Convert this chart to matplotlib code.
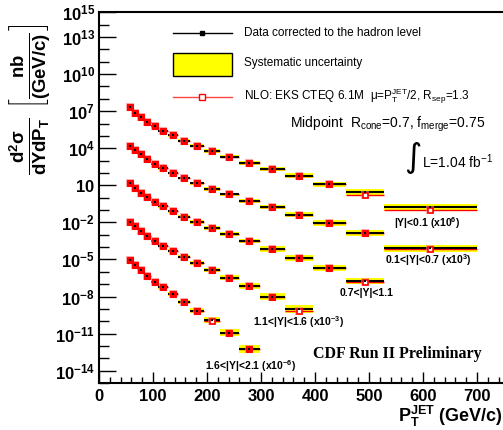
import numpy as np
import matplotlib
matplotlib.use("Agg")
import matplotlib.pyplot as plt
from matplotlib.ticker import NullFormatter, MultipleLocator
from matplotlib.lines import Line2D
from matplotlib.patches import Rectangle

plt.rcParams['font.family'] = ['Liberation Sans', 'DejaVu Sans']
plt.rcParams['mathtext.fontset'] = 'custom'
plt.rcParams['mathtext.rm'] = 'Liberation Sans'
plt.rcParams['mathtext.it'] = 'Liberation Sans:italic'
plt.rcParams['mathtext.bf'] = 'Liberation Sans:bold'

# jet pT bin edges (GeV/c)
pt_edges = [54, 62, 72, 83, 96, 110, 127, 146, 169, 195, 224, 259, 298, 344, 396, 457, 527, 700]

# plotted cross sections (already multiplied by the factor in each label), nb/(GeV/c)
xsec_y01 = [2.05e7, 7.5e6, 3.2e6, 1.25e6, 5.9e5, 2.5e5, 1.1e5, 4.1e4, 1.6e4, 6.0e3,
            2.06e3, 6.7e2, 2.0e2, 60, 12, 2.7, 0.166]
xsec_y07 = [1.6e4, 7.2e3, 3.2e3, 1.27e3, 560, 237, 99, 39, 14.5, 5.0,
            1.8, 0.54, 0.166, 0.040, 8.4e-3, 1.3e-3, 8.0e-5]
xsec_y11 = [14.5, 6.05, 2.5, 1.07, 0.47, 0.20, 0.079, 0.029, 0.0107, 3.5e-3,
            1.1e-3, 3.1e-4, 7.0e-5, 1.24e-5, 1.9e-6, 1.8e-7]
xsec_y16 = [0.0113, 5.1e-3, 2.1e-3, 8.4e-4, 3.3e-4, 1.3e-4, 5.1e-5, 1.7e-5, 4.9e-6, 1.4e-6,
            3.3e-7, 6.5e-8, 9.7e-9, 1.04e-9]
xsec_y21 = [9.0e-6, 3.6e-6, 1.4e-6, 4.6e-7, 1.6e-7, 5.6e-8, 1.5e-8, 3.8e-9, 7.1e-10, 1.2e-10,
            1.2e-11, 5.7e-13]

# relative systematic uncertainty
sys_y01 = [0.25, 0.25, 0.25, 0.25, 0.25, 0.25, 0.28, 0.3, 0.32, 0.35, 0.38, 0.42, 0.45, 0.55, 0.65, 0.75, 0.95]
sys_y07 = [0.25, 0.25, 0.25, 0.25, 0.25, 0.25, 0.28, 0.3, 0.32, 0.35, 0.38, 0.42, 0.5, 0.6, 0.7, 0.8, 0.9]
sys_y11 = [0.25, 0.25, 0.25, 0.25, 0.25, 0.28, 0.3, 0.32, 0.35, 0.38, 0.42, 0.5, 0.6, 0.7, 0.8, 0.9]
sys_y16 = [0.25, 0.25, 0.25, 0.28, 0.3, 0.32, 0.35, 0.4, 0.45, 0.5, 0.6, 0.75, 0.9, 1.15]
sys_y21 = [0.25, 0.28, 0.3, 0.32, 0.35, 0.4, 0.45, 0.5, 0.6, 0.7, 0.85, 1.05]

# NLO prediction / data
nlo_y01 = [1, 1, 1, 1, 1, 1, 1, 1, 1, 1, 1, 1, 1, 1, 1, 0.6, 0.55]
nlo_y07 = [1, 1, 1, 1, 1, 1, 1, 1, 1, 1, 1, 1, 1, 1, 1, 1, 0.85]
nlo_y11 = [1, 1, 1, 1, 1, 1, 1, 1, 1, 1, 1, 1, 1, 1, 1, 0.9]
nlo_y16 = [1, 1, 1, 1, 1, 1, 1, 1, 1, 1, 1, 1, 1, 0.65]
nlo_y21 = [1, 1, 1, 1, 1, 1, 1, 1, 1, 0.9, 1, 1]

labels = [r'|Y|<0.1 (x10$^{\mathbf{6}}$)', r'0.1<|Y|<0.7 (x10$^{\mathbf{3}}$)', '0.7<|Y|<1.1',
          r'1.1<|Y|<1.6 (x10$^{\mathbf{-3}}$)', r'1.6<|Y|<2.1 (x10$^{\mathbf{-6}}$)']
label_pos = [(427, 223), (428, 260), (367, 293), (298, 322), (250, 366)]

W, H = 503, 430
fig = plt.figure(figsize=(W / 100, H / 100), dpi=100)
ax = fig.add_axes([99 / W, 1 - 383 / H, (504 - 99) / W, (383 - 12.3) / H])

series = [(xsec_y01, sys_y01, nlo_y01), (xsec_y07, sys_y07, nlo_y07),
          (xsec_y11, sys_y11, nlo_y11), (xsec_y16, sys_y16, nlo_y16),
          (xsec_y21, sys_y21, nlo_y21)]

for vals, sys, ratio in series:
    n = len(vals)
    lo = np.array(pt_edges[:n], float)
    hi = np.array(pt_edges[1:n + 1], float)
    mid = (lo + hi) / 2
    v = np.array(vals)
    s = np.array(sys)
    r = np.array(ratio, float)
    nlo = v * r
    ax.bar(lo, v * (1 + s) - v / (1 + s), bottom=v / (1 + s), width=hi - lo,
           align='edge', color='#ffff00', lw=0, zorder=1)
    ax.hlines(nlo, lo, hi, color='#ff0000', lw=1, zorder=2)
    ax.hlines(v, lo, hi, color='black', lw=1.5, zorder=3)
    ax.plot(mid, nlo, 's', ms=6, color='#ff8080', alpha=0.6, mew=0, zorder=4)
    same = r == 1
    ax.plot(mid[same], nlo[same], 's', ms=4, mfc='#ff0000', mec='#ff0000', mew=0.8, zorder=5)
    ax.plot(mid[~same], nlo[~same], 's', ms=3.6, mfc='white', mec='#ff0000', mew=1.2, zorder=5)
    ax.plot(mid, v, 's', ms=2, color='black', mew=0, zorder=6)

ax.set_yscale('log')
ax.set_ylim(1e-15, 1e15)
ax.set_xlim(0, 750)

lab_dec = [15, 13, 10, 7, 4, 1, -2, -5, -8, -11, -14]
ylabels = [r'$\mathbf{10^{%d}}$' % k if k != 1 else r'$\mathbf{10}$' for k in lab_dec]
ax.set_yticks([10.0 ** k for k in lab_dec], labels=ylabels)
ax.set_yticks([10.0 ** k for k in range(-15, 16) if k not in lab_dec], minor=True)
ax.yaxis.set_minor_formatter(NullFormatter())
ax.xaxis.set_major_locator(MultipleLocator(100))
ax.xaxis.set_minor_locator(MultipleLocator(20))

ax.tick_params(axis='y', which='major', direction='in', length=12, width=1, labelsize=12, pad=3)
ax.tick_params(axis='y', which='minor', direction='in', length=7, width=1)
ax.tick_params(axis='x', which='major', direction='in', length=8, width=1, labelsize=12, pad=4)
ax.tick_params(axis='x', which='minor', direction='in', length=4, width=1)
ax.tick_params(top=False, right=False, which='both')
for t in ax.get_xticklabels():
    t.set_fontweight('bold')
for side in ['left', 'bottom', 'top']:
    ax.spines[side].set_linewidth(1.5)
ax.spines['right'].set_visible(False)

for txt, (x, y) in zip(labels, label_pos):
    fig.text(x / W, 1 - y / H, txt, fontsize=7.5, weight='bold', ha='center', va='center')

# legend
fig.add_artist(Line2D([172.7 / W, 231.7 / W], [1 - 32.7 / H] * 2, color='black', lw=1))
fig.add_artist(Line2D([202 / W], [1 - 32.7 / H], marker='s', ms=2.5, color='black'))
fig.add_artist(Rectangle((172.7 / W, 1 - 76 / H), 59 / W, 22.7 / H, fc='#ffff00', ec='black', lw=1))
fig.add_artist(Line2D([172.7 / W, 231.7 / W], [1 - 96.7 / H] * 2, color='#ff4444', lw=1))
fig.add_artist(Line2D([202 / W], [1 - 96.7 / H], marker='s', ms=4, mfc='white', mec='red', mew=1))

fig.text(244 / W, 1 - 33 / H, 'Data corrected to the hadron level', fontsize=8.5, va='center')
fig.text(244 / W, 1 - 63 / H, 'Systematic uncertainty', fontsize=8.5, va='center')
fig.text(244 / W, 1 - 96 / H, r'NLO: EKS CTEQ 6.1M  μ=$\mathrm{P_{T}^{JET}}$/2, $\mathrm{R_{sep}}$=1.3',
         fontsize=8.5, va='center')
fig.text(485 / W, 1 - 124 / H, r'Midpoint  $\mathrm{R_{cone}}$=0.7, $\mathrm{f_{merge}}$=0.75',
         fontsize=10, ha='right', va='center')
fig.text(413 / W, 1 - 158 / H, '∫', fontsize=24, ha='center', va='center', family='DejaVu Sans')
fig.text(422 / W, 1 - 162 / H, r'L=1.04 fb$^{\mathrm{-1}}$', fontsize=10, va='center')

fig.text(397 / W, 1 - 354 / H, 'CDF Run II Preliminary', family='Liberation Serif',
         weight='bold', fontsize=11.5, ha='center', va='center')

fig.text(503 / W, 1 - 416 / H, r'$\mathbf{P_{T}^{JET}}$ (GeV/c)', ha='right', va='center',
         weight='bold', fontsize=13)
fig.text(31 / W, 1 - 99 / H,
         r'$\mathbf{\frac{d^{2}\sigma}{dYdP_{T}}\ \left[\frac{nb}{(GeV/c)}\right]}$',
         rotation=90, ha='center', va='center', fontsize=19)

fig.savefig('out.png', dpi=100)
